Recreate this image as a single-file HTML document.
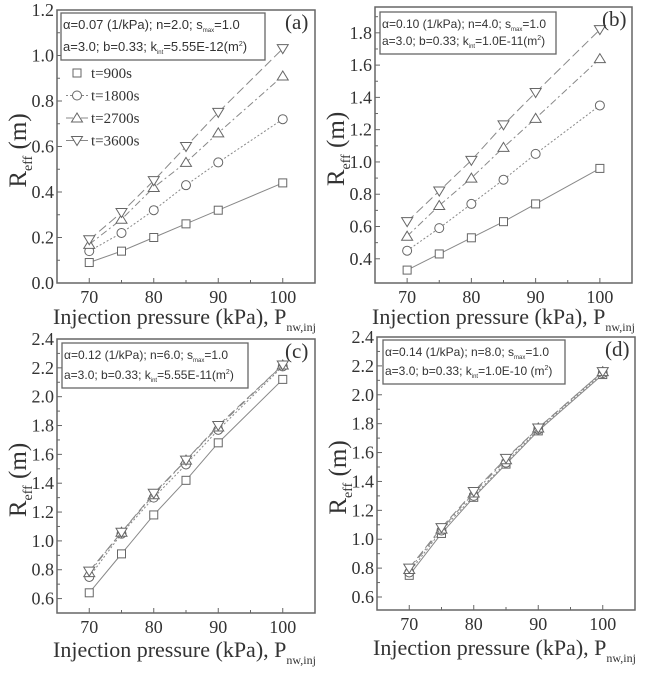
<!DOCTYPE html>
<html><head><meta charset="utf-8"><style>
html,body{margin:0;padding:0;background:#fff;}
svg{display:block;}
</style></head><body>
<svg id="chart" width="647" height="673" viewBox="0 0 647 673" xmlns="http://www.w3.org/2000/svg"></svg>
<script>
const categories = [70, 75, 80, 85, 90, 100];
const seriesNames = ["t=900s", "t=1800s", "t=2700s", "t=3600s"];
const aT900 = [0.09, 0.14, 0.20, 0.26, 0.32, 0.44];
const aT1800 = [0.14, 0.22, 0.32, 0.43, 0.53, 0.72];
const aT2700 = [0.17, 0.28, 0.42, 0.53, 0.66, 0.91];
const aT3600 = [0.19, 0.31, 0.45, 0.60, 0.75, 1.03];
const bT900 = [0.33, 0.43, 0.53, 0.63, 0.74, 0.96];
const bT1800 = [0.45, 0.59, 0.74, 0.89, 1.05, 1.35];
const bT2700 = [0.54, 0.73, 0.90, 1.09, 1.27, 1.64];
const bT3600 = [0.63, 0.82, 1.01, 1.23, 1.43, 1.82];
const cT900 = [0.64, 0.91, 1.18, 1.42, 1.68, 2.12];
const cT1800 = [0.75, 1.05, 1.30, 1.53, 1.77, 2.21];
const cT2700 = [0.78, 1.06, 1.32, 1.56, 1.79, 2.22];
const cT3600 = [0.79, 1.06, 1.33, 1.56, 1.80, 2.22];
const dT900 = [0.75, 1.04, 1.29, 1.52, 1.75, 2.14];
const dT1800 = [0.77, 1.06, 1.30, 1.53, 1.76, 2.15];
const dT2700 = [0.79, 1.07, 1.32, 1.55, 1.77, 2.16];
const dT3600 = [0.80, 1.08, 1.33, 1.56, 1.77, 2.16];
const xTicks = [70, 80, 90, 100];
const aYTicks = ["0.0","0.2","0.4","0.6","0.8","1.0","1.2"];
const bYTicks = ["0.4","0.6","0.8","1.0","1.2","1.4","1.6","1.8"];
const cYTicks = ["0.6","0.8","1.0","1.2","1.4","1.6","1.8","2.0","2.2","2.4"];
const dYTicks = ["0.6","0.8","1.0","1.2","1.4","1.6","1.8","2.0","2.2","2.4"];

const NS="http://www.w3.org/2000/svg";
const svg=document.getElementById('chart');
const SERIF='font-family:"Liberation Serif","DejaVu Serif",serif;fill:#333;';
const SANS='font-family:"Liberation Sans","DejaVu Sans",sans-serif;fill:#333;';
function mk(tag,attrs,parent){const e=document.createElementNS(NS,tag);for(const k in attrs)e.setAttribute(k,attrs[k]);(parent||svg).appendChild(e);return e;}

const panels=[
 {id:'a',L:57,R:315,T:10,B:283,y0:0,y1:1.2,yt:aYTicks,s:[aT900,aT1800,aT2700,aT3600],
  box:[61,13,204,47],l1:"α=0.07 (1/kPa); n=2.0; s",l2a:"a=3.0; b=0.33; k",l2b:"=5.55E-12(m",legend:true,xtx:53,xty:324},
 {id:'b',L:375,R:632,T:7,B:283,y0:0.25,y1:1.96,yt:bYTicks,s:[bT900,bT1800,bT2700,bT3600],
  box:[380,12,176,42],l1:"α=0.10 (1/kPa); n=4.0; s",l2a:"a=3.0; b=0.33; k",l2b:"=1.0E-11(m",xtx:372,xty:324},
 {id:'c',L:57,R:315,T:339,B:613,y0:0.5,y1:2.4,yt:cYTicks,s:[cT900,cT1800,cT2700,cT3600],
  box:[62,343,186,45],l1:"α=0.12 (1/kPa); n=6.0; s",l2a:"a=3.0; b=0.33; k",l2b:"=5.55E-11(m",xtx:53,xty:657},
 {id:'d',L:377,R:635,T:337,B:610,y0:0.51,y1:2.4,yt:dYTicks,s:[dT900,dT1800,dT2700,dT3600],
  box:[383,340,182,44],l1:"α=0.14 (1/kPa); n=8.0; s",l2a:"a=3.0; b=0.33; k",l2b:"=1.0E-10 (m",xtx:373,xty:655}
];
const dashes=["", "2,2", "7,3,2,3", "9,4"];
const col="#888";

function marker(g,k,x,y){
  let e;
  const a={fill:'#fff',stroke:'#666','stroke-width':1};
  if(k===0)e=mk('rect',Object.assign({x:x-4,y:y-4,width:8,height:8},a),g);
  else if(k===1)e=mk('circle',Object.assign({cx:x,cy:y,r:4.5},a),g);
  else if(k===2)e=mk('polygon',Object.assign({points:`${x},${y-5} ${x-5.5},${y+4} ${x+5.5},${y+4}`},a),g);
  else e=mk('polygon',Object.assign({points:`${x},${y+5} ${x-5.5},${y-4} ${x+5.5},${y-4}`},a),g);
  return e;
}

panels.forEach(p=>{
  const g=mk('g',{});
  
  
  const xs=v=>p.L+(v-65)*(p.R-p.L)/40;
  const ys=v=>p.B-(v-p.y0)*(p.B-p.T)/(p.y1-p.y0);
  const fr=mk('rect',{x:p.L,y:p.T,width:p.R-p.L,height:p.B-p.T,fill:'none',stroke:'#666','stroke-width':1.5},g);
  
  
  for(let v=70;v<=100;v+=5){
    const big=v%10===0;
    mk('line',{x1:xs(v),x2:xs(v),y1:p.B,y2:p.B-(big?5:3),stroke:'#666'},g);
  }
  xTicks.forEach(v=>{
    const t=mk('text',{x:xs(v),y:p.B+20,'text-anchor':'middle',style:SERIF+'font-size:18px;'},g);t.textContent=v;
    
    
  });
  p.yt.forEach(s=>{
    const v=parseFloat(s),y=ys(v);
    mk('line',{x1:p.L,x2:p.L+5,y1:y,y2:y,stroke:'#666'},g);
    const ym=ys(v+0.1);
    if(ym>p.T)mk('line',{x1:p.L,x2:p.L+3,y1:ym,y2:ym,stroke:'#666'},g);
    const t=mk('text',{x:p.L-3,y:y+6,'text-anchor':'end',style:SERIF+'font-size:18px;'},g);t.textContent=s;
    
    
  });
  const xt=mk('text',{x:p.xtx,y:p.xty,style:SERIF+'font-size:22px;'},g);
  xt.innerHTML='Injection pressure (kPa), P<tspan style="font-size:12px" dy="7">nw,inj</tspan>';
  
  
  const cy=(p.T+p.B)/2+4;
  const yt=mk('text',{x:0,y:0,'text-anchor':'middle',style:SERIF+'font-size:25px;',transform:`translate(${p.L-31},${cy}) rotate(-90)`},g);
  yt.innerHTML='R<tspan style="font-size:14px" dy="6">eff</tspan><tspan dy="-6"> (m)</tspan>';
  
  
  p.s.forEach((arr,k)=>{
    const sg=mk('g',{},g);
    
    
    const pts=arr.map((v,i)=>xs(categories[i])+','+ys(v)).join(' ');
    const pl=mk('polyline',{points:pts,fill:'none',stroke:col,'stroke-width':1,'stroke-dasharray':dashes[k]},sg);
    
    
    arr.forEach((v,i)=>{
      const m=marker(sg,k,xs(categories[i]),ys(v));
      
      
    });
  });
  const bx=p.box;
  const br=mk('rect',{x:bx[0],y:bx[1],width:bx[2],height:bx[3],fill:'#fff',stroke:'#666','stroke-width':1.3},g);
  
  
  const fs=p.id==='a'?'13px':'12px';
  const t1=mk('text',{x:bx[0]+2,y:bx[1]+16,style:SANS+'font-size:'+fs+';'},g);
  t1.innerHTML=p.l1+'<tspan style="font-size:6px" dy="3">max</tspan><tspan dy="-3">=1.0</tspan>';
  
  
  const t2=mk('text',{x:bx[0]+2,y:bx[1]+bx[3]-9,style:SANS+'font-size:'+fs+';'},g);
  t2.innerHTML=p.l2a+'<tspan style="font-size:6px" dy="3">int</tspan><tspan dy="-3">'+p.l2b+'</tspan><tspan style="font-size:7px" dy="-5">2</tspan><tspan dy="5">)</tspan>';
  
  
  const pl=mk('text',{x:p.R-30,y:p.T+19,style:SERIF+'font-size:21px;'},g);
  pl.textContent='('+p.id+')';
  
  
  if(p.legend){
    seriesNames.forEach((n,k)=>{
      const lg=mk('g',{},g);
      
      
      const y=73+k*22.5;
      if(k>0)mk('line',{x1:66,x2:88,y1:y,y2:y,stroke:col,'stroke-dasharray':dashes[k]},lg);
      marker(lg,k,77,y);
      const t=mk('text',{x:91,y:y+5,style:SERIF+'font-size:15px;'},lg);t.textContent=n;
    });
  }
});
</script>
</body></html>
